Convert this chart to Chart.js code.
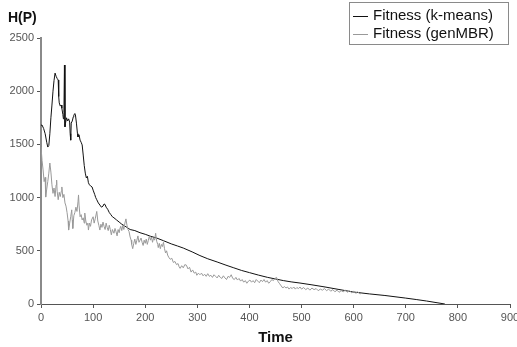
<!DOCTYPE html>
<html>
<head>
<meta charset="utf-8">
<script src="https://cdn.jsdelivr.net/npm/chart.js@4/dist/chart.umd.min.js"></script>
<style>
  html, body { margin: 0; padding: 0; background: #fff; }
  #wrap { position: relative; width: 517px; height: 347px; font-family: "Liberation Sans", Arial, sans-serif; }
  #title { position: absolute; left: 8px; top: 9px; font-size: 14px; font-weight: bold; color: #111; }
  #legend { position: absolute; left: 349px; top: 2px; width: 160px; height: 43px; border: 1px solid #8a8a8a; box-sizing: border-box; font-size: 15px; color: #111; }
  .item { position: absolute; left: 3px; height: 18px; line-height: 18px; white-space: nowrap; }
  .swatch { display: inline-block; width: 15px; height: 0; vertical-align: middle; margin-right: 5px; }
  canvas { position: absolute; left: 0; top: 0; }
</style>
</head>
<body>
<div id="wrap">
  <canvas id="chart" width="517" height="347"></canvas>
  <div id="title">H(P)</div>
  <div id="legend">
    <div class="item" style="top:3px"><span class="swatch" style="border-top:1px solid #111"></span>Fitness (k-means)</div>
    <div class="item" style="top:21px"><span class="swatch" style="border-top:1px solid #999"></span>Fitness (genMBR)</div>
  </div>
</div>
<script>
// k-means fitness over time
const kmTime = [0, 2, 5, 8, 11, 13, 15, 17, 19, 21, 23, 25, 27, 29, 31, 33, 34, 35, 37, 39, 40, 42, 43, 44, 45, 46, 47, 49, 51, 53, 55, 56, 57, 58, 60, 62, 63, 65, 66, 68, 70, 71, 73, 75, 77, 79, 81, 83, 85, 87, 89, 91, 93, 95, 98, 100, 103, 105, 107, 110, 113, 116, 119, 121, 123, 125, 128, 131, 134, 137, 140, 145, 150, 155, 160, 165, 171, 180, 190, 200, 210, 222, 235, 250, 262, 273, 290, 305, 320, 338, 355, 370, 385, 400, 417, 435, 450, 465, 480, 497, 520, 545, 570, 599, 630, 660, 699, 720, 740, 760, 775];
const kmValues = [1680, 1682, 1650, 1600, 1520, 1475, 1490, 1600, 1750, 1870, 2000, 2100, 2170, 2140, 2120, 2105, 1950, 1890, 1860, 1870, 1840, 1780, 1740, 1800, 2246, 1665, 1700, 1750, 1720, 1740, 1710, 1600, 1540, 1700, 1720, 1760, 1775, 1790, 1780, 1700, 1600, 1570, 1590, 1540, 1520, 1495, 1400, 1300, 1230, 1185, 1200, 1140, 1120, 1110, 1100, 1070, 1030, 1000, 980, 950, 930, 910, 920, 940, 935, 910, 890, 860, 840, 820, 810, 790, 770, 750, 735, 720, 700, 690, 670, 655, 637, 620, 595, 565, 545, 526, 490, 455, 425, 395, 365, 340, 315, 295, 272, 250, 235, 220, 208, 197, 180, 160, 138, 113, 95, 80, 56, 42, 28, 12, 0];

// genMBR fitness over time
const gmTime = [0, 2, 4, 6, 8, 9, 11, 13, 15, 17, 19, 21, 23, 25, 27, 29, 30, 31, 33, 35, 37, 39, 40, 42, 44, 46, 48, 50, 52, 53, 55, 57, 59, 60, 61, 63, 65, 67, 69, 71, 72, 73, 75, 77, 79, 81, 83, 84, 86, 88, 90, 91, 93, 95, 97, 100, 102, 104, 107, 109, 111, 113, 115, 117, 119, 121, 123, 125, 127, 129, 131, 133, 135, 137, 140, 142, 144, 146, 148, 150, 152, 153, 155, 157, 159, 161, 163, 165, 167, 169, 171, 173, 174, 176, 178, 180, 182, 184, 186, 188, 190, 192, 194, 196, 198, 200, 202, 204, 206, 208, 210, 212, 214, 216, 218, 220, 222, 224, 225, 227, 229, 231, 233, 235, 237, 239, 241, 243, 245, 248, 251, 254, 257, 260, 263, 265, 267, 270, 273, 276, 279, 282, 285, 288, 291, 294, 297, 299, 302, 305, 308, 311, 314, 317, 320, 323, 326, 329, 332, 335, 338, 341, 344, 347, 350, 353, 356, 359, 362, 365, 368, 371, 374, 377, 380, 383, 386, 389, 392, 395, 398, 401, 404, 407, 410, 413, 416, 419, 422, 425, 428, 431, 434, 437, 440, 443, 446, 449, 452, 455, 458, 461, 464, 467, 470, 473, 476, 479, 482, 485, 488, 491, 494, 497, 500, 504, 508, 512, 516, 520, 524, 528, 532, 536, 540, 544, 548, 552, 556, 560, 564, 568, 572, 576, 580, 584, 588, 592, 596, 600, 604, 608, 612, 615];
const gmValues = [1475, 1350, 1260, 1150, 1190, 1005, 1080, 1150, 1230, 1325, 1240, 1120, 1040, 1090, 1010, 1120, 1165, 1060, 980, 1050, 1010, 1060, 1100, 1000, 1030, 950, 920, 860, 780, 695, 760, 820, 885, 790, 710, 830, 860, 910, 870, 960, 1025, 930, 820, 840, 790, 810, 760, 855, 780, 740, 760, 695, 760, 730, 790, 820, 760, 800, 870, 780, 740, 695, 750, 720, 770, 730, 700, 760, 720, 690, 740, 700, 650, 700, 665, 710, 680, 640, 700, 670, 720, 730, 690, 740, 700, 760, 800, 740, 700, 680, 630, 600, 560, 520, 570, 610, 560, 600, 640, 580, 600, 620, 580, 550, 600, 570, 610, 560, 600, 640, 600, 630, 580, 620, 600, 665, 590, 560, 530, 570, 520, 560, 540, 580, 520, 480, 500, 460, 440, 420, 430, 390, 400, 370, 380, 350, 335, 360, 340, 370, 365, 330, 345, 300, 320, 290, 300, 270, 290, 275, 290, 265, 280, 260, 285, 260, 270, 250, 275, 260, 245, 270, 250, 240, 265, 245, 230, 260, 250, 275, 240, 230, 250, 225, 240, 215, 230, 205, 220, 195, 215, 225, 205, 220, 200, 230, 215, 200, 225, 210, 230, 205, 220, 195, 210, 230, 220, 240, 250, 210, 190, 170, 150, 165, 150, 160, 140, 155, 145, 160, 140, 155, 145, 160, 140, 155, 135, 150, 130, 150, 135, 145, 125, 140, 130, 145, 125, 140, 120, 135, 115, 130, 110, 125, 115, 130, 110, 125, 105, 120, 100, 115, 95, 100];

const xTicks = [0, 100, 200, 300, 400, 500, 600, 700, 800, 900];
const yTicks = [0, 500, 1000, 1500, 2000, 2500];

const toPoints = (xs, ys) => xs.map((x, i) => ({ x, y: ys[i] }));
const tickFont = { family: "Liberation Sans, Arial", size: 11 };

new Chart(document.getElementById("chart"), {
    type: "line",
    data: {
        datasets: [
            {
                label: "Fitness (genMBR)",
                data: toPoints(gmTime, gmValues),
                borderColor: "#999999",
                borderWidth: 1,
                pointRadius: 0,
                tension: 0
            },
            {
                label: "Fitness (k-means)",
                data: toPoints(kmTime, kmValues),
                borderColor: "#111111",
                borderWidth: 1,
                pointRadius: 0,
                tension: 0
            }
        ]
    },
    options: {
        responsive: false,
        animation: false,
        layout: { padding: { top: 38, right: 7, left: 0, bottom: 0 } },
        plugins: { legend: { display: false }, tooltip: { enabled: false } },
        scales: {
            x: {
                type: "linear",
                min: xTicks[0],
                max: xTicks[xTicks.length - 1],
                afterBuildTicks: (scale) => { scale.ticks = xTicks.map((v) => ({ value: v })); },
                afterFit: (scale) => { scale.height = 43; scale.paddingLeft = 0; scale.paddingRight = 0; },
                grid: { drawOnChartArea: false, drawTicks: true, tickLength: 4, color: "#555" },
                border: { color: "#555", width: 1 },
                ticks: { color: "#555", font: tickFont, padding: 3, maxRotation: 0, callback: (v) => String(v) },
                title: { display: true, text: "Time", color: "#111", font: { family: "Liberation Sans, Arial", size: 15, weight: "bold" }, padding: { top: 0, bottom: 0 } }
            },
            y: {
                min: yTicks[0],
                max: yTicks[yTicks.length - 1],
                afterBuildTicks: (scale) => { scale.ticks = yTicks.map((v) => ({ value: v })); },
                afterFit: (scale) => { scale.width = 41; scale.paddingTop = 0; scale.paddingBottom = 0; },
                grid: { drawOnChartArea: false, drawTicks: true, tickLength: 4, color: "#555" },
                border: { color: "#8a8a8a", width: 2 },
                ticks: { color: "#555", font: tickFont, padding: 3, callback: (v) => String(v) }
            }
        }
    }
});
</script>
</body>
</html>
